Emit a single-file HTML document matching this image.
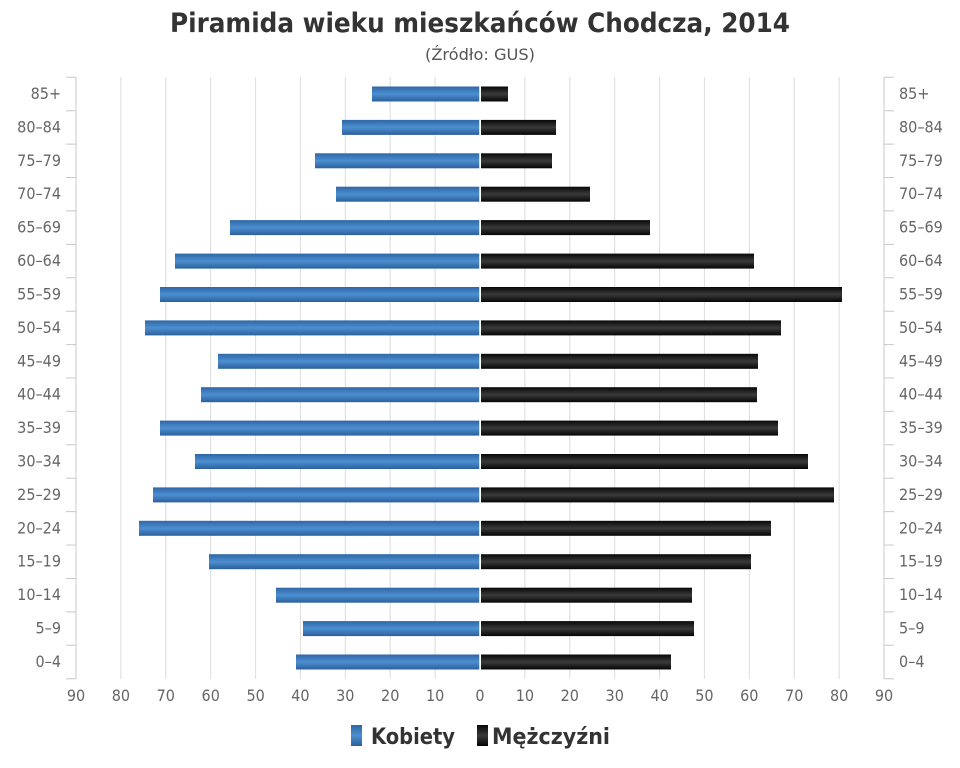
<!DOCTYPE html>
<html><head><meta charset="utf-8"><style>
body{margin:0;background:#fff;}
svg{display:block;font-family:"DejaVu Sans Condensed","Liberation Sans Narrow","Liberation Sans",sans-serif;}
</style></head><body>
<svg width="960" height="768" viewBox="0 0 960 768">
<defs>
<linearGradient id="b" x1="0" y1="0" x2="0" y2="1">
<stop offset="0" stop-color="#2f66a6"/><stop offset="0.5" stop-color="#4c8fd0"/><stop offset="1" stop-color="#2c5f9c"/></linearGradient>
<linearGradient id="k" x1="0" y1="0" x2="0" y2="1">
<stop offset="0" stop-color="#080808"/><stop offset="0.5" stop-color="#3a3a3a"/><stop offset="1" stop-color="#050505"/></linearGradient>
</defs>
<text x="480" y="32" text-anchor="middle" font-size="27" font-weight="bold" fill="#333" textLength="620" lengthAdjust="spacingAndGlyphs">Piramida wieku mieszkańców Chodcza, 2014</text>
<text x="480" y="60" text-anchor="middle" font-size="16" fill="#555" textLength="110" lengthAdjust="spacingAndGlyphs">(Źródło: GUS)</text>
<g stroke="#dcdcdc" stroke-width="1">
<line x1="120.9" y1="77" x2="120.9" y2="679"/><line x1="165.8" y1="77" x2="165.8" y2="679"/><line x1="210.7" y1="77" x2="210.7" y2="679"/><line x1="255.6" y1="77" x2="255.6" y2="679"/><line x1="300.4" y1="77" x2="300.4" y2="679"/><line x1="345.3" y1="77" x2="345.3" y2="679"/><line x1="390.2" y1="77" x2="390.2" y2="679"/><line x1="435.1" y1="77" x2="435.1" y2="679"/><line x1="480" y1="77" x2="480" y2="679"/><line x1="524.9" y1="77" x2="524.9" y2="679"/><line x1="569.8" y1="77" x2="569.8" y2="679"/><line x1="614.7" y1="77" x2="614.7" y2="679"/><line x1="659.6" y1="77" x2="659.6" y2="679"/><line x1="704.4" y1="77" x2="704.4" y2="679"/><line x1="749.3" y1="77" x2="749.3" y2="679"/><line x1="794.2" y1="77" x2="794.2" y2="679"/><line x1="839.1" y1="77" x2="839.1" y2="679"/>
</g>
<g stroke="#c8c8c8" stroke-width="1">
<line x1="76" y1="77" x2="76" y2="679"/><line x1="884" y1="77" x2="884" y2="679"/>
<path d="M66 77.3H76M66 110.7H76M66 144.1H76M66 177.5H76M66 210.9H76M66 244.4H76M66 277.8H76M66 311.2H76M66 344.6H76M66 378H76M66 411.4H76M66 444.8H76M66 478.2H76M66 511.6H76M66 545H76M66 578.5H76M66 611.9H76M66 645.3H76M66 678.7H76"/>
<path d="M884 77.3H894M884 110.7H894M884 144.1H894M884 177.5H894M884 210.9H894M884 244.4H894M884 277.8H894M884 311.2H894M884 344.6H894M884 378H894M884 411.4H894M884 444.8H894M884 478.2H894M884 511.6H894M884 545H894M884 578.5H894M884 611.9H894M884 645.3H894M884 678.7H894"/>
</g>
<g fill="url(#b)">
<rect x="372" y="86.5" width="108" height="15"/>
<rect x="342" y="119.9" width="138" height="15"/>
<rect x="315" y="153.3" width="165" height="15"/>
<rect x="336" y="186.7" width="144" height="15"/>
<rect x="230" y="220.1" width="250" height="15"/>
<rect x="175" y="253.6" width="305" height="15"/>
<rect x="160" y="287" width="320" height="15"/>
<rect x="145" y="320.4" width="335" height="15"/>
<rect x="218" y="353.8" width="262" height="15"/>
<rect x="201" y="387.2" width="279" height="15"/>
<rect x="160" y="420.6" width="320" height="15"/>
<rect x="195" y="454" width="285" height="15"/>
<rect x="153" y="487.4" width="327" height="15"/>
<rect x="139" y="520.8" width="341" height="15"/>
<rect x="209" y="554.2" width="271" height="15"/>
<rect x="276" y="587.7" width="204" height="15"/>
<rect x="303" y="621.1" width="177" height="15"/>
<rect x="296" y="654.5" width="184" height="15"/>
</g>
<g fill="url(#k)">
<rect x="481" y="86.5" width="27" height="15"/>
<rect x="481" y="119.9" width="75" height="15"/>
<rect x="481" y="153.3" width="71" height="15"/>
<rect x="481" y="186.7" width="109" height="15"/>
<rect x="481" y="220.1" width="169" height="15"/>
<rect x="481" y="253.6" width="273" height="15"/>
<rect x="481" y="287" width="361" height="15"/>
<rect x="481" y="320.4" width="300" height="15"/>
<rect x="481" y="353.8" width="277" height="15"/>
<rect x="481" y="387.2" width="276" height="15"/>
<rect x="481" y="420.6" width="297" height="15"/>
<rect x="481" y="454" width="327" height="15"/>
<rect x="481" y="487.4" width="353" height="15"/>
<rect x="481" y="520.8" width="290" height="15"/>
<rect x="481" y="554.2" width="270" height="15"/>
<rect x="481" y="587.7" width="211" height="15"/>
<rect x="481" y="621.1" width="213" height="15"/>
<rect x="481" y="654.5" width="190" height="15"/>
</g>
<line x1="480" y1="77" x2="480" y2="679" stroke="#fff" stroke-width="1.5"/>
<g font-size="16" fill="#666" text-anchor="end">
<text x="61" y="99">85+</text><text x="61" y="132.4">80–84</text><text x="61" y="165.8">75–79</text><text x="61" y="199.2">70–74</text><text x="61" y="232.6">65–69</text><text x="61" y="266.1">60–64</text><text x="61" y="299.5">55–59</text><text x="61" y="332.9">50–54</text><text x="61" y="366.3">45–49</text><text x="61" y="399.7">40–44</text><text x="61" y="433.1">35–39</text><text x="61" y="466.5">30–34</text><text x="61" y="499.9">25–29</text><text x="61" y="533.3">20–24</text><text x="61" y="566.7">15–19</text><text x="61" y="600.2">10–14</text><text x="61" y="633.6">5–9</text><text x="61" y="667">0–4</text>
</g>
<g font-size="16" fill="#666" text-anchor="start">
<text x="899" y="99">85+</text><text x="899" y="132.4">80–84</text><text x="899" y="165.8">75–79</text><text x="899" y="199.2">70–74</text><text x="899" y="232.6">65–69</text><text x="899" y="266.1">60–64</text><text x="899" y="299.5">55–59</text><text x="899" y="332.9">50–54</text><text x="899" y="366.3">45–49</text><text x="899" y="399.7">40–44</text><text x="899" y="433.1">35–39</text><text x="899" y="466.5">30–34</text><text x="899" y="499.9">25–29</text><text x="899" y="533.3">20–24</text><text x="899" y="566.7">15–19</text><text x="899" y="600.2">10–14</text><text x="899" y="633.6">5–9</text><text x="899" y="667">0–4</text>
</g>
<g font-size="16" fill="#666" text-anchor="middle">
<text x="76" y="701">90</text><text x="120.9" y="701">80</text><text x="165.8" y="701">70</text><text x="210.7" y="701">60</text><text x="255.6" y="701">50</text><text x="300.4" y="701">40</text><text x="345.3" y="701">30</text><text x="390.2" y="701">20</text><text x="435.1" y="701">10</text><text x="480" y="701">0</text><text x="524.9" y="701">10</text><text x="569.8" y="701">20</text><text x="614.7" y="701">30</text><text x="659.6" y="701">40</text><text x="704.4" y="701">50</text><text x="749.3" y="701">60</text><text x="794.2" y="701">70</text><text x="839.1" y="701">80</text><text x="884" y="701">90</text>
</g>
<rect x="351" y="725" width="11" height="21" fill="url(#b)"/>
<text x="371" y="744" font-size="22" font-weight="bold" fill="#333" textLength="84" lengthAdjust="spacingAndGlyphs">Kobiety</text>
<rect x="477" y="725" width="11" height="21" fill="url(#k)"/>
<text x="492" y="744" font-size="22" font-weight="bold" fill="#333" textLength="118" lengthAdjust="spacingAndGlyphs">Mężczyźni</text>
</svg>
</body></html>
